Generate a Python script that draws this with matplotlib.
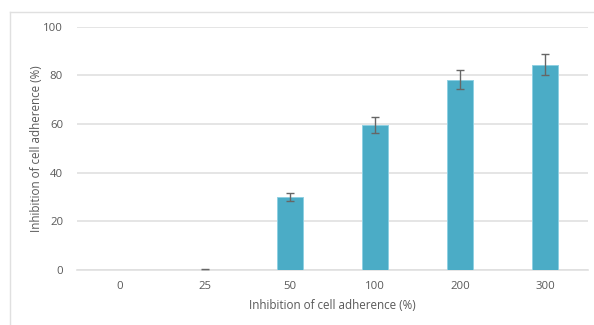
import matplotlib
matplotlib.use("Agg")
import matplotlib.pyplot as plt
from matplotlib.lines import Line2D

categories = ["0", "25", "50", "100", "200", "300"]
values = [0.0, 0.0, 30.1, 59.6, 78.2, 84.4]
errors = [float('nan'), 0.3, 1.6, 3.1, 4.0, 4.2]
yticks = [0, 20, 40, 60, 80, 100]

plt.rcParams['font.family'] = ['Open Sans', 'DejaVu Sans']
text_color = '#595959'
grid_color = '#E0E0E0'
bar_color = '#4BACC6'

fig = plt.figure(figsize=(5.94, 3.25), dpi=100)
ax = fig.add_axes([77/594, 1-270.1/325, 511/594, (270.1-26.6)/325])

x = list(range(len(categories)))
ax.bar(x, values, width=0.305, color=bar_color, edgecolor='#8FD0E2', linewidth=0.7, zorder=3)
ax.errorbar(x, values, yerr=errors, fmt='none', ecolor='#666666', elinewidth=1.0,
            capsize=3, capthick=1.0, zorder=4)

ax.set_xlim(-0.5, len(categories)-0.5)
ax.set_ylim(0, 100)
ax.set_yticks(yticks)
ax.set_xticks(x)
ax.set_xticklabels(categories)
ax.yaxis.grid(True, color=grid_color, linewidth=1.2, zorder=0)
ax.set_axisbelow(True)
for s in ['top', 'right', 'left']:
    ax.spines[s].set_visible(False)
ax.spines['bottom'].set_color(grid_color)
ax.spines['bottom'].set_linewidth(1.2)
ax.spines['bottom'].set_zorder(1)
ax.tick_params(axis='both', length=0, labelsize=8.2, colors=text_color)
ax.tick_params(axis='y', pad=10)
ax.tick_params(axis='x', pad=8)
ax.set_xlabel("Inhibition of cell adherence (%)", fontsize=8.4, color=text_color, labelpad=5)
ax.set_ylabel("Inhibition of cell adherence (%)", fontsize=8.4, color=text_color, labelpad=0)

# chart area border
fig.add_artist(Line2D([10/594, 10/594], [0, 1-12/325], transform=fig.transFigure, color=grid_color, linewidth=1.0))
fig.add_artist(Line2D([10/594, 1], [1-12/325, 1-12/325], transform=fig.transFigure, color=grid_color, linewidth=1.0))

fig.savefig("out.png", dpi=100)
